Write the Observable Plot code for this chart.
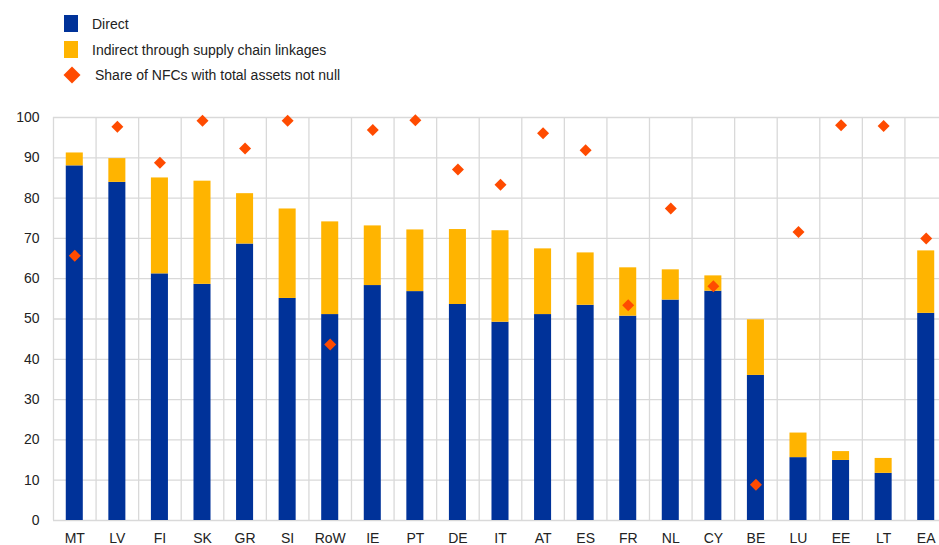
<!DOCTYPE html>
<html>
<head>
<meta charset="utf-8">
<script src="https://cdn.jsdelivr.net/npm/d3@7"></script>
<script src="https://cdn.jsdelivr.net/npm/@observablehq/plot@0.6"></script>
<style>
  html, body { margin: 0; padding: 0; background: #fff; overflow: hidden; }
  body { width: 939px; height: 545px; position: relative; font-family: "Liberation Sans", Arial, sans-serif; color: #222; }
  #legend { position: absolute; left: 0; top: 0; font-size: 14px; }
  .li { position: absolute; left: 64px; display: flex; align-items: center; height: 17px; white-space: nowrap; }
  .sw { width: 14px; height: 17px; margin-right: 14px; }
  .dm { width: 12px; height: 12px; transform: rotate(45deg); margin: 0 17px 0 2px; }
  #chart { position: absolute; left: 0; top: 0; }
</style>
</head>
<body>
<div id="legend"></div>
<div id="chart"></div>
<script>
const categories = ["MT","LV","FI","SK","GR","SI","RoW","IE","PT","DE","IT","AT","ES","FR","NL","CY","BE","LU","EE","LT","EA"];
const direct   = [88.0, 83.9, 61.2, 58.6, 68.6, 55.1, 51.1, 58.3, 56.8, 53.6, 49.2, 51.1, 53.4, 50.7, 54.7, 56.9, 36.0, 15.6, 14.9, 11.7, 51.4];
const indirect = [ 3.2,  5.9, 23.8, 25.6, 12.5, 22.2, 23.0, 14.8, 15.3, 18.6, 22.7, 16.3, 13.0, 12.0,  7.5,  3.8, 13.8,  6.1,  2.2,  3.7, 15.5];
const shareNotNull = [65.7, 97.7, 88.8, 99.2, 92.3, 99.2, 43.7, 96.9, 99.3, 87.1, 83.3, 96.1, 91.9, 53.4, 77.4, 58.1, 8.9, 71.6, 98.1, 97.9, 70.0];
const yTicks = [0, 10, 20, 30, 40, 50, 60, 70, 80, 90, 100];
const seriesNames = ["Direct", "Indirect through supply chain linkages"];
const seriesColors = ["#003299", "#ffb400"];
const diamondName = "Share of NFCs with total assets not null";
const diamondColor = "#ff4b00";
const gridColor = "#d9d9d9";

// Legend
const legend = document.getElementById("legend");
const legendTops = [15, 41, 66];
seriesNames.forEach((name, i) => {
  const row = document.createElement("div");
  row.className = "li";
  row.style.top = legendTops[i] + "px";
  const sw = document.createElement("div");
  sw.className = "sw";
  sw.style.background = seriesColors[i];
  const t = document.createElement("span");
  t.textContent = name;
  row.appendChild(sw); row.appendChild(t);
  legend.appendChild(row);
});
{
  const row = document.createElement("div");
  row.className = "li";
  row.style.top = legendTops[2] + "px";
  const dm = document.createElement("div");
  dm.className = "dm";
  dm.style.background = diamondColor;
  const t = document.createElement("span");
  t.textContent = diamondName;
  row.appendChild(dm); row.appendChild(t);
  legend.appendChild(row);
}

// Data tables
const stacked = [];
categories.forEach((c, i) => {
  stacked.push({cat: c, series: seriesNames[0], value: direct[i]});
  stacked.push({cat: c, series: seriesNames[1], value: indirect[i]});
});
const points = categories.map((c, i) => ({cat: c, value: shareNotNull[i]}));

const W = 939, H = 545, mL = 53, mR = -8, mT = 117, mB = 25;
const step = (W - mL - mR) / categories.length;

const chart = Plot.plot({
  width: W,
  height: H,
  marginLeft: mL,
  marginRight: mR,
  marginTop: mT,
  marginBottom: mB,
  style: {fontFamily: "'Liberation Sans', Arial, sans-serif", fontSize: "14px", color: "#222", background: "transparent"},
  x: {domain: categories, paddingInner: 0.6, paddingOuter: 0.3, round: false, tickSize: 0, tickPadding: 13, label: null},
  y: {domain: [0, 100], ticks: yTicks, tickSize: 0, tickPadding: 14, label: null},
  color: {domain: seriesNames, range: seriesColors},
  marks: [
    Plot.ruleY(yTicks, {stroke: gridColor, strokeWidth: 1.3}),
    Plot.ruleX(categories, {x: d => d, dx: -step / 2, stroke: gridColor, strokeWidth: 1.3}),
    Plot.barY(stacked, {x: "cat", y: "value", fill: "series", order: seriesNames}),
    Plot.dot(points, {x: "cat", y: "value", symbol: "diamond2", r: 5.4, fill: diamondColor, stroke: "none"})
  ]
});
document.getElementById("chart").appendChild(chart);
</script>
</body>
</html>
